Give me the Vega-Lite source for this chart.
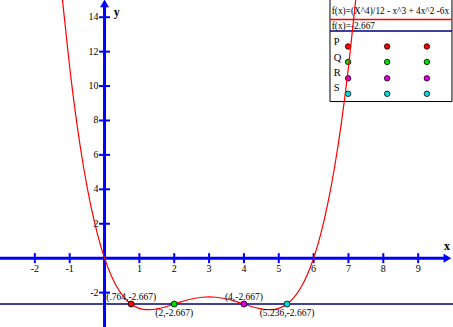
{
  "$schema": "https://vega.github.io/schema/vega-lite/v6.json",
  "width": 453,
  "height": 327,
  "autosize": {"type": "none"},
  "padding": 0,
  "background": "white",
  "config": {"view": {"stroke": null}, "text": {"font": "Liberation Serif"}},
  "encoding": {
    "x": {"field": "x", "type": "quantitative", "scale": {"domain": [-3, 10], "nice": false, "zero": false}, "axis": null},
    "y": {"field": "y", "type": "quantitative", "scale": {"domain": [-4, 15], "nice": false, "zero": false}, "axis": null}
  },
  "layer": [
    {
      "data": {"values": [{"x": 6.47, "x2": 9.97, "y": 9.1, "y2": 15.3}]},
      "mark": {"type": "rect", "fill": "white", "stroke": "black", "strokeWidth": 1},
      "encoding": {"x2": {"field": "x2"}, "y2": {"field": "y2"}}
    },
    {
      "data": {"values": [{"x": 6.47, "x2": 9.97, "y": 13.87, "c": "f"}, {"x": 6.47, "x2": 9.97, "y": 13.2, "c": "g"}]},
      "mark": {"type": "rule", "strokeWidth": 1.5},
      "encoding": {"x2": {"field": "x2"}, "color": {"field": "c", "type": "nominal", "scale": {"domain": ["f", "g"], "range": ["#ff0000", "#000080"]}, "legend": null}}
    },
    {
      "data": {"values": [{"x": 6.52, "y": 14.35, "t": "f(x)=(X^4)/12 - x^3 + 4x^2 -6x"}, {"x": 6.52, "y": 13.5, "t": "f(x)=-2.667"}]},
      "mark": {"type": "text", "align": "left", "baseline": "middle", "fontSize": 9.3, "color": "black"},
      "encoding": {"text": {"field": "t"}}
    },
    {
      "data": {"values": [{"x": 6.58, "y": 12.56, "t": "P"}, {"x": 6.58, "y": 11.63, "t": "Q"}, {"x": 6.58, "y": 10.75, "t": "R"}, {"x": 6.58, "y": 9.9, "t": "S"}]},
      "mark": {"type": "text", "align": "left", "baseline": "middle", "fontSize": 10.5, "color": "black"},
      "encoding": {"text": {"field": "t"}}
    },
    {
      "data": {"values": [
        {"x": 6.99, "y": 12.3, "s": "P"}, {"x": 8.11, "y": 12.3, "s": "P"}, {"x": 9.25, "y": 12.3, "s": "P"},
        {"x": 6.99, "y": 11.4, "s": "Q"}, {"x": 8.11, "y": 11.4, "s": "Q"}, {"x": 9.25, "y": 11.4, "s": "Q"},
        {"x": 6.99, "y": 10.45, "s": "R"}, {"x": 8.11, "y": 10.45, "s": "R"}, {"x": 9.25, "y": 10.45, "s": "R"},
        {"x": 6.99, "y": 9.55, "s": "S"}, {"x": 8.11, "y": 9.55, "s": "S"}, {"x": 9.25, "y": 9.55, "s": "S"}
      ]},
      "mark": {"type": "point", "filled": true, "size": 30, "stroke": "black", "strokeWidth": 0.8, "opacity": 1},
      "encoding": {"fill": {"field": "s", "type": "nominal", "scale": {"domain": ["P", "Q", "R", "S"], "range": ["#ff0000", "#00dd00", "#dd00dd", "#00dddd"]}, "legend": null}}
    },
    {
      "data": {"values": [{"x": -3, "x2": 10, "y": -2.667}]},
      "mark": {"type": "rule", "color": "#000080", "strokeWidth": 1.5},
      "encoding": {"x2": {"field": "x2"}}
    },
    {
      "data": {"values": [{"x": -3, "x2": 9.8, "y": 0, "y2": 0}, {"x": 0, "x2": 0, "y": -4, "y2": 14.75}]},
      "mark": {"type": "rule", "color": "#0000ff", "strokeWidth": 3},
      "encoding": {"x2": {"field": "x2"}, "y2": {"field": "y2"}}
    },
    {
      "data": {"values": [{"x": 9.84, "y": 0, "d": "r"}]},
      "mark": {"type": "point", "shape": "triangle-right", "filled": true, "size": 80, "color": "#0000ff", "opacity": 1},
      "encoding": {}
    },
    {
      "data": {"values": [{"x": 0, "y": 14.8, "d": "u"}]},
      "mark": {"type": "point", "shape": "triangle-up", "filled": true, "size": 80, "color": "#0000ff", "opacity": 1},
      "encoding": {}
    },
    {
      "data": {"values": [{"x": -2, "y": 0}, {"x": -1, "y": 0}, {"x": 1, "y": 0}, {"x": 2, "y": 0}, {"x": 3, "y": 0}, {"x": 4, "y": 0}, {"x": 5, "y": 0}, {"x": 6, "y": 0}, {"x": 7, "y": 0}, {"x": 8, "y": 0}, {"x": 9, "y": 0}]},
      "mark": {"type": "tick", "orient": "vertical", "size": 10, "thickness": 2, "color": "#0000ff", "opacity": 1},
      "encoding": {}
    },
    {
      "data": {"values": [{"x": 0, "y": -2}, {"x": 0, "y": 2}, {"x": 0, "y": 4}, {"x": 0, "y": 6}, {"x": 0, "y": 8}, {"x": 0, "y": 10}, {"x": 0, "y": 12}, {"x": 0, "y": 14}]},
      "mark": {"type": "tick", "orient": "horizontal", "size": 11, "thickness": 2, "color": "#0000ff", "opacity": 1},
      "encoding": {}
    },
    {
      "data": {"values": [{"x": -2, "y": 0, "t": "-2"}, {"x": -1, "y": 0, "t": "-1"}, {"x": 1, "y": 0, "t": "1"}, {"x": 2, "y": 0, "t": "2"}, {"x": 3, "y": 0, "t": "3"}, {"x": 4, "y": 0, "t": "4"}, {"x": 5, "y": 0, "t": "5"}, {"x": 6, "y": 0, "t": "6"}, {"x": 7, "y": 0, "t": "7"}, {"x": 8, "y": 0, "t": "8"}, {"x": 9, "y": 0, "t": "9"}]},
      "mark": {"type": "text", "align": "center", "baseline": "middle", "dy": 11, "fontSize": 10, "color": "black"},
      "encoding": {"text": {"field": "t"}}
    },
    {
      "data": {"values": [{"x": 0, "y": -2, "t": "-2"}, {"x": 0, "y": 2, "t": "2"}, {"x": 0, "y": 4, "t": "4"}, {"x": 0, "y": 6, "t": "6"}, {"x": 0, "y": 8, "t": "8"}, {"x": 0, "y": 10, "t": "10"}, {"x": 0, "y": 12, "t": "12"}, {"x": 0, "y": 14, "t": "14"}]},
      "mark": {"type": "text", "align": "right", "baseline": "middle", "dx": -6, "fontSize": 10, "color": "black"},
      "encoding": {"text": {"field": "t"}}
    },
    {
      "data": {"values": [
        {"x": -1.4, "y": 19.304}, {"x": -1.2, "y": 14.861}, {"x": -1.0, "y": 11.083}, {"x": -0.8, "y": 7.906},
        {"x": -0.6, "y": 5.267}, {"x": -0.4, "y": 3.106}, {"x": -0.2, "y": 1.368}, {"x": 0, "y": 0},
        {"x": 0.2, "y": -1.048}, {"x": 0.4, "y": -1.822}, {"x": 0.6, "y": -2.365}, {"x": 0.8, "y": -2.718},
        {"x": 1.0, "y": -2.917}, {"x": 1.2, "y": -2.995}, {"x": 1.4, "y": -2.984}, {"x": 1.6, "y": -2.91},
        {"x": 1.8, "y": -2.797}, {"x": 2.0, "y": -2.667}, {"x": 2.2, "y": -2.536}, {"x": 2.4, "y": -2.419},
        {"x": 2.6, "y": -2.328}, {"x": 2.8, "y": -2.27}, {"x": 3.0, "y": -2.25}, {"x": 3.2, "y": -2.27},
        {"x": 3.4, "y": -2.328}, {"x": 3.6, "y": -2.419}, {"x": 3.8, "y": -2.536}, {"x": 4.0, "y": -2.667},
        {"x": 4.2, "y": -2.797}, {"x": 4.4, "y": -2.91}, {"x": 4.6, "y": -2.984}, {"x": 4.8, "y": -2.995},
        {"x": 5.0, "y": -2.917}, {"x": 5.2, "y": -2.718}, {"x": 5.4, "y": -2.365}, {"x": 5.6, "y": -1.822},
        {"x": 5.8, "y": -1.048}, {"x": 6.0, "y": 0}, {"x": 6.2, "y": 1.368}, {"x": 6.4, "y": 3.106},
        {"x": 6.6, "y": 5.267}, {"x": 6.8, "y": 7.906}, {"x": 7.0, "y": 11.083}, {"x": 7.2, "y": 14.861},
        {"x": 7.4, "y": 19.304}
      ]},
      "mark": {"type": "line", "color": "#ff0000", "strokeWidth": 1.2, "interpolate": "monotone", "clip": true},
      "encoding": {"order": {"field": "x", "type": "quantitative"}}
    },
    {
      "data": {"values": [
        {"x": 0.764, "y": -2.667, "s": "P", "t": "(.764,-2.667)", "pos": "above"},
        {"x": 2, "y": -2.667, "s": "Q", "t": "(2,-2.667)", "pos": "below"},
        {"x": 4, "y": -2.667, "s": "R", "t": "(4,-2.667)", "pos": "above"},
        {"x": 5.236, "y": -2.667, "s": "S", "t": "(5.236,-2.667)", "pos": "below"}
      ]},
      "layer": [
        {
          "mark": {"type": "point", "filled": true, "size": 36, "stroke": "black", "strokeWidth": 0.8, "opacity": 1},
          "encoding": {"fill": {"field": "s", "type": "nominal", "scale": {"domain": ["P", "Q", "R", "S"], "range": ["#ff0000", "#00dd00", "#dd00dd", "#00dddd"]}, "legend": null}}
        },
        {
          "transform": [{"filter": "datum.pos == 'above'"}],
          "mark": {"type": "text", "align": "center", "baseline": "middle", "dy": -7, "fontSize": 9.5, "color": "black"},
          "encoding": {"text": {"field": "t"}}
        },
        {
          "transform": [{"filter": "datum.pos == 'below'"}],
          "mark": {"type": "text", "align": "center", "baseline": "middle", "dy": 9, "fontSize": 9.5, "color": "black"},
          "encoding": {"text": {"field": "t"}}
        }
      ]
    },
    {
      "data": {"values": [{"x": 9.83, "y": 0.72, "t": "x"}, {"x": 0.35, "y": 14.3, "t": "y"}]},
      "mark": {"type": "text", "align": "center", "baseline": "middle", "fontSize": 12, "fontWeight": "bold", "color": "black"},
      "encoding": {"text": {"field": "t"}}
    }
  ]
}
